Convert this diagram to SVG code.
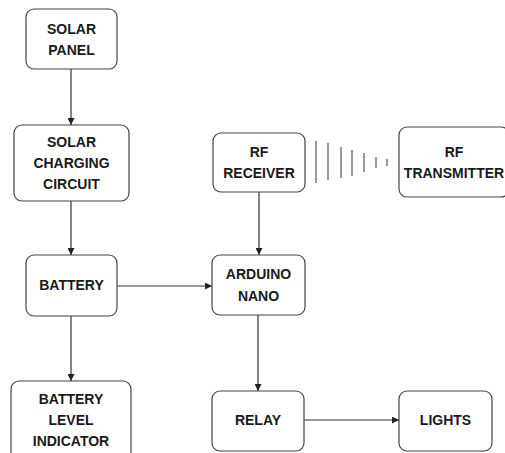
<svg xmlns="http://www.w3.org/2000/svg" width="505" height="453" viewBox="0 0 505 453">
<style>
.box{fill:#fff;stroke:#444;stroke-width:1.2}
.t{font-family:"Liberation Sans",Arial,sans-serif;font-weight:bold;font-size:14px;fill:#1a1a1a;text-anchor:middle}
.c{stroke:#333;stroke-width:1.2;fill:none}
.w{stroke:#777;stroke-width:1.5}
</style>
<defs>
<marker id="ah" viewBox="0 0 10 10" refX="10" refY="5" markerWidth="7" markerHeight="7" markerUnits="userSpaceOnUse" orient="auto">
<path d="M0,0 L10,5 L0,10 Z" fill="#222"/>
</marker>
</defs>
<rect width="505" height="453" fill="#fff"/>
<g id="connectors">
<line class="c" x1="71" y1="69" x2="71" y2="125" marker-end="url(#ah)"/>
<line class="c" x1="71" y1="201" x2="71" y2="255" marker-end="url(#ah)"/>
<line class="c" x1="71" y1="316" x2="71" y2="381" marker-end="url(#ah)"/>
<line class="c" x1="117" y1="286" x2="212" y2="286" marker-end="url(#ah)"/>
<line class="c" x1="259" y1="192" x2="259" y2="255" marker-end="url(#ah)"/>
<line class="c" x1="258" y1="315" x2="258" y2="391" marker-end="url(#ah)"/>
<line class="c" x1="304" y1="420" x2="399" y2="420" marker-end="url(#ah)"/>
</g>
<g id="signal">
<line class="w" x1="316" y1="141" x2="316" y2="183"/>
<line class="w" x1="328" y1="143" x2="328" y2="180"/>
<line class="w" x1="341" y1="147" x2="341" y2="178"/>
<line class="w" x1="352" y1="150" x2="352" y2="176"/>
<line class="w" x1="364" y1="153" x2="364" y2="172"/>
<line class="w" x1="376" y1="157" x2="376" y2="168"/>
<line class="w" x1="387" y1="159" x2="387" y2="166"/>
</g>
<g id="solar-panel">
<rect class="box" x="26" y="9" width="91" height="60" rx="8"/>
<text class="t" x="71.5" y="34">SOLAR</text>
<text class="t" x="71.5" y="55">PANEL</text>
</g>
<g id="solar-charging-circuit">
<rect class="box" x="14" y="125" width="115" height="76" rx="8"/>
<text class="t" x="71.5" y="147">SOLAR</text>
<text class="t" x="71.5" y="168">CHARGING</text>
<text class="t" x="71.5" y="189">CIRCUIT</text>
</g>
<g id="battery">
<rect class="box" x="26" y="255" width="91" height="61" rx="8"/>
<text class="t" x="71.5" y="290">BATTERY</text>
</g>
<g id="battery-level-indicator">
<rect class="box" x="11" y="381" width="120" height="80" rx="8"/>
<text class="t" x="71" y="404">BATTERY</text>
<text class="t" x="71" y="425">LEVEL</text>
<text class="t" x="71" y="446">INDICATOR</text>
</g>
<g id="rf-receiver">
<rect class="box" x="213" y="133" width="92" height="59" rx="8"/>
<text class="t" x="259" y="157">RF</text>
<text class="t" x="259" y="178">RECEIVER</text>
</g>
<g id="rf-transmitter">
<rect class="box" x="399" y="127" width="110" height="70" rx="8"/>
<text class="t" x="454" y="157">RF</text>
<text class="t" x="454" y="178">TRANSMITTER</text>
</g>
<g id="arduino-nano">
<rect class="box" x="212" y="255" width="93" height="60" rx="8"/>
<text class="t" x="258.5" y="279">ARDUINO</text>
<text class="t" x="258.5" y="301">NANO</text>
</g>
<g id="relay">
<rect class="box" x="212" y="391" width="92" height="60" rx="8"/>
<text class="t" x="258" y="425">RELAY</text>
</g>
<g id="lights">
<rect class="box" x="399" y="391" width="93" height="60" rx="8"/>
<text class="t" x="445.5" y="425">LIGHTS</text>
</g>
</svg>
